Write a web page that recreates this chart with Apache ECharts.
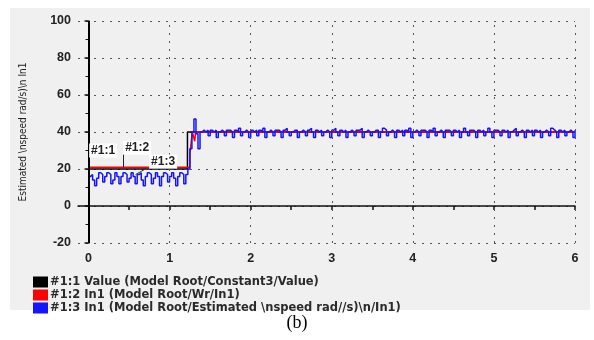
<!DOCTYPE html>
<html>
<head>
<meta charset="utf-8">
<script src="https://cdn.jsdelivr.net/npm/echarts@6/dist/echarts.min.js"></script>
<style>
  html, body { margin: 0; padding: 0; background: #fff; }
  #move { width: 594px; height: 340px; }
</style>
</head>
<body>
<div id="move"></div>
<script>
// 数据
var dt = 0.025; // 采样间隔 (s)
var xTicks = [0, 1, 2, 3, 4, 5, 6];
var xMinorTicks = [0, 0.5, 1, 1.5, 2, 2.5, 3, 3.5, 4, 4.5, 5, 5.5, 6];
var seriesNames = [
  '#1:1 Value (Model Root/Constant3/Value)',
  '#1:2 In1 (Model Root/Wr/In1)',
  '#1:3 In1 (Model Root/Estimated \\nspeed rad//s)\\n/In1)'
];
// 黑色: 给定值
var valueData = [[0, 20], [1.22, 20], [1.22, 40], [6, 40]];
// 红色: Wr
var wrData = [[0, 21], [1.25, 21], [1.25, 28], [1.28, 40], [1.3, 40], [1.31, 35], [1.32, 40], [6, 40]];
// 蓝色: 估计转速, 每 dt 一个点
var estimated = [
  16,17,14,11,15,18,17,13, 16,18,17,12,14,18,16,12,
  16,18,17,13,15,18,16,12, 17,18,14,11,16,18,17,12,
  15,18,16,11,16,18,17,13, 16,18,15,11,16,18,17,12,
  17,20,31,40,47,39,31,40,41,
  40,41,38,41,40,41,37,40, 41,40,38,41,41,40,37,41,
  40,42,38,40,41,40,37,41, 40,41,38,41,40,42,37,40,
  41,40,38,41,41,40,37,41, 42,40,38,40,41,41,37,40,
  41,40,38,41,42,40,37,41, 40,41,38,40,41,40,37,41,
  42,40,38,41,40,41,37,40, 41,40,38,41,41,42,37,40,
  41,40,38,40,41,41,37,40, 42,41,38,40,41,40,37,41,
  40,41,38,41,40,42,37,40, 41,40,38,41,41,40,37,41,
  40,42,38,40,41,40,37,41, 41,40,38,41,40,41,37,40,
  42,40,38,41,41,40,37,41, 40,41,38,40,42,40,37,41,
  41,40,38,41,40,41,37,40, 41,42,38,40,41,40,37,41,
  40,41,38,41,40,41,37,40, 41,40,38,42,41,40,37,41,
  40,41,38,40,41,40,37,41
];
var cursorLabels = ['#1:1', '#1:2', '#1:3'];

var estimatedData = estimated.map(function (v, i) { return [+(i * dt).toFixed(3), v]; });

var myChart = echarts.init(document.getElementById('move'));

var labelFont = { fontFamily: 'Liberation Sans, Arial, sans-serif', fontWeight: 'bold', fontSize: 12.5, color: '#222' };
var tagLabel = {
  show: true, position: 'inside', formatter: '{b}',
  fontFamily: 'Liberation Sans, Arial, sans-serif', fontWeight: 'bold', fontSize: 12, color: '#222',
  backgroundColor: '#fff', padding: [1, 2]
};
var gridDots = { color: '#555', width: 1, type: [2, 6] };

var option = {
  animation: false,
  graphic: [
    { type: 'rect', left: 10, top: 8, shape: { width: 580, height: 302 }, style: { fill: '#f0f0f0' }, z: -10 },
    { type: 'text', left: 'center', top: 314, style: { text: '(b)', font: '18px "Liberation Serif", "Times New Roman", serif', fill: '#000' } }
  ],
  grid: { left: 78, right: 19, top: 21, bottom: 97 },
  legend: {
    orient: 'vertical', left: 28, top: 271,
    icon: 'rect', itemWidth: 15, itemHeight: 11, itemGap: 1,
    textStyle: { fontFamily: 'DejaVu Sans, sans-serif', fontSize: 11.5, fontWeight: 'bold', color: '#2a2a2a', padding: [0, 0, 0, -3] },
    data: seriesNames
  },
  xAxis: {
    type: 'value', min: -0.13, max: 6,
    axisLine: { show: true, lineStyle: { color: '#111', width: 1.5 } },
    axisTick: { show: true, customValues: xMinorTicks, length: 4, lineStyle: { color: '#111', width: 1.5 } },
    axisLabel: Object.assign({ customValues: xTicks, margin: 9 }, labelFont),
    splitLine: { show: false }
  },
  yAxis: {
    type: 'value', min: -20, max: 100, interval: 20,
    name: 'Estimated \\nspeed rad/s)\\n In1',
    nameLocation: 'middle', nameGap: 50,
    nameTextStyle: { fontFamily: 'Liberation Sans Narrow, DejaVu Sans Condensed, sans-serif', fontSize: 10, color: '#222' },
    axisLine: { show: true, lineStyle: { color: '#111', width: 1.5 } },
    axisTick: { show: true, length: 4, lineStyle: { color: '#111', width: 1.5 } },
    minorTick: { show: true, splitNumber: 2, length: 3, lineStyle: { color: '#111' } },
    axisLabel: Object.assign({ margin: 7 }, labelFont),
    splitLine: { show: true, lineStyle: gridDots }
  },
  series: [
    {
      name: seriesNames[0], type: 'line', data: valueData, showSymbol: false,
      color: '#000', lineStyle: { color: '#000', width: 1.5 },
      markLine: {
        silent: true, symbol: 'none', label: { show: false },
        data: [
          { xAxis: 0, lineStyle: { color: '#000', width: 2, type: 'solid' } },
          { xAxis: 1, lineStyle: gridDots },
          { xAxis: 2, lineStyle: gridDots },
          { xAxis: 3, lineStyle: gridDots },
          { xAxis: 4, lineStyle: gridDots },
          { xAxis: 5, lineStyle: gridDots },
          { xAxis: 6, lineStyle: gridDots }
        ]
      },
      markPoint: {
        symbol: 'rect', symbolSize: 0, label: tagLabel,
        data: [{ name: cursorLabels[0], coord: [0.18, 30] }]
      }
    },
    {
      name: seriesNames[1], type: 'line', data: wrData, showSymbol: false,
      color: '#ff0000', lineStyle: { color: '#ff0000', width: 1.5 },
      markLine: {
        silent: true, symbol: 'none', label: { show: false },
        lineStyle: { color: '#222', width: 1, type: 'solid' },
        data: [[{ coord: [0.43, 21] }, { coord: [0.43, 28] }]]
      },
      markPoint: {
        symbol: 'rect', symbolSize: 0, label: tagLabel,
        data: [{ name: cursorLabels[1], coord: [0.6, 31.5] }]
      }
    },
    {
      name: seriesNames[2], type: 'line', data: estimatedData, showSymbol: false, step: 'end',
      color: '#1414ff', lineStyle: { color: '#1414ff', width: 1.5 },
      markLine: {
        silent: true, symbol: 'none', label: { show: false },
        lineStyle: { color: '#333', width: 1, type: 'solid' },
        data: [[{ coord: [0.58, 17] }, { coord: [0.72, 20.5] }]]
      },
      markPoint: {
        symbol: 'rect', symbolSize: 0, label: tagLabel,
        data: [{ name: cursorLabels[2], coord: [0.92, 24] }]
      }
    }
  ]
};

myChart.setOption(option);
</script>
</body>
</html>
